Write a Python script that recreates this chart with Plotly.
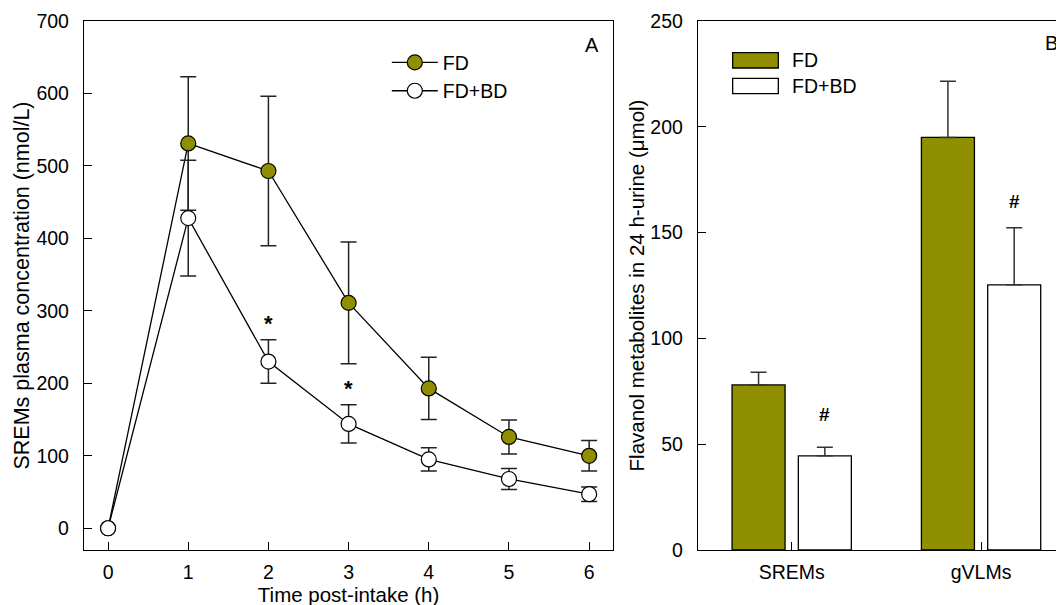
import plotly.graph_objects as go

# ---------------- data ----------------
time_h = [0, 1, 2, 3, 4, 5, 6]
fd_plasma = [0, 531, 493, 311, 193, 126, 100]
fd_plasma_err = [0, 92, 103, 84, 43, 23.5, 21]
fdbd_plasma = [0, 428, 230, 144, 95, 68, 47]
fdbd_plasma_err = [0, 80, 30, 26.5, 16, 14.5, 10]

metabolites = ["SREMs", "gVLMs"]
fd_urine = [78, 195]
fd_urine_err = [6, 26.5]
fdbd_urine = [44.5, 125.3]
fdbd_urine_err = [4, 27]

series_names = ["FD", "FD+BD"]
x_ticks_a = [0, 1, 2, 3, 4, 5, 6]
y_ticks_a = [0, 100, 200, 300, 400, 500, 600, 700]
y_ticks_b = [0, 50, 100, 150, 200, 250]

# ---------------- style ----------------
OLIVE = "#8F8F00"
FONT = "Liberation Sans, Arial, sans-serif"
FS = 19.5

fig = go.Figure()

# Panel A: plasma time course
fig.add_trace(go.Scatter(
    x=time_h, y=fd_plasma, name=series_names[0], mode="lines+markers",
    line=dict(color="black", width=1.3),
    marker=dict(size=15, color=OLIVE, line=dict(color="black", width=1.2)),
    error_y=dict(type="data", array=fd_plasma_err, color="#222222", thickness=1.5, width=8),
    xaxis="x", yaxis="y", legend="legend"))
fig.add_trace(go.Scatter(
    x=time_h, y=fdbd_plasma, name=series_names[1], mode="lines+markers",
    line=dict(color="black", width=1.3),
    marker=dict(size=15, color="white", line=dict(color="black", width=1.2)),
    error_y=dict(type="data", array=fdbd_plasma_err, color="#222222", thickness=1.5, width=8),
    xaxis="x", yaxis="y", legend="legend"))

# Panel B: urinary excretion
fig.add_trace(go.Bar(
    x=metabolites, y=fd_urine, name=series_names[0], showlegend=False,
    marker=dict(color=OLIVE, line=dict(color="black", width=1.3)),
    error_y=dict(type="data", array=fd_urine_err, arrayminus=[0, 0], symmetric=False,
                 color="#333333", thickness=1.5, width=8),
    xaxis="x2", yaxis="y2"))
fig.add_trace(go.Bar(
    x=metabolites, y=fdbd_urine, name=series_names[1], showlegend=False,
    marker=dict(color="white", line=dict(color="black", width=1.3)),
    error_y=dict(type="data", array=fdbd_urine_err, arrayminus=[0, 0], symmetric=False,
                 color="#333333", thickness=1.5, width=8),
    xaxis="x2", yaxis="y2"))

axis_common = dict(showline=True, linecolor="black", linewidth=1.3, ticks="inside",
                   ticklen=8, tickwidth=1.3, tickcolor="black", showgrid=False,
                   zeroline=False, automargin=False,
                   tickfont=dict(family=FONT, size=FS, color="black"))

annotations = []
# significance marks in panel A (above FD+BD upper error)
for i, t in enumerate(time_h):
    if t in (2, 3):
        annotations.append(dict(x=t, y=fdbd_plasma[i] + fdbd_plasma_err[i], xref="x", yref="y",
                                text="<b>*</b>", showarrow=False, yshift=16,
                                xanchor="center", yanchor="middle",
                                font=dict(family=FONT, size=22, color="black")))
# significance marks in panel B
hash_shift = [33, 26]
for i, m in enumerate(metabolites):
    annotations.append(dict(x=i + 0.175, y=fdbd_urine[i] + fdbd_urine_err[i], xref="x2", yref="y2",
                            text="<b>#</b>", showarrow=False, yshift=hash_shift[i],
                            xanchor="center", yanchor="middle",
                            font=dict(family=FONT, size=19, color="black")))
# panel letters
annotations.append(dict(x=0.518, y=0.955, xref="paper", yref="paper", text="A", showarrow=False,
                        xanchor="center", yanchor="middle",
                        font=dict(family=FONT, size=20, color="black")))
annotations.append(dict(x=0.987, y=0.9575, xref="paper", yref="paper", text="B", showarrow=False,
                        xanchor="center", yanchor="middle",
                        font=dict(family=FONT, size=20, color="black")))
# legend text for panel B
annotations.append(dict(x=0.7204, y=0.9257, xref="paper", yref="paper", text=series_names[0],
                        showarrow=False, xanchor="left", yanchor="middle",
                        font=dict(family=FONT, size=FS, color="black")))
annotations.append(dict(x=0.7204, y=0.8771, xref="paper", yref="paper", text=series_names[1],
                        showarrow=False, xanchor="left", yanchor="middle",
                        font=dict(family=FONT, size=FS, color="black")))

shapes = [
    dict(type="rect", xref="paper", yref="paper", x0=0.6619, x1=0.7085, y0=0.9112, y1=0.9401,
         fillcolor=OLIVE, line=dict(color="black", width=1.3)),
    dict(type="rect", xref="paper", yref="paper", x0=0.6619, x1=0.7085, y0=0.8626, y1=0.8917,
         fillcolor="white", line=dict(color="black", width=1.3)),
]

fig.update_layout(
    width=1064, height=605,
    margin=dict(l=76, r=8, t=13, b=63),
    paper_bgcolor="white", plot_bgcolor="white",
    font=dict(family=FONT, size=FS, color="black"),
    barmode="group", bargap=0.3, bargroupgap=0.2,
    xaxis=dict(domain=[0, 0.540], range=[-0.3, 6.3], tickvals=x_ticks_a, mirror=True,
               ticklabelstandoff=4,
               title=dict(text="Time post-intake (h)", font=dict(family=FONT, size=20.5), standoff=5),
               anchor="y", **axis_common),
    yaxis=dict(domain=[0, 1], range=[-30, 700], tickvals=y_ticks_a, mirror=True,
               ticklabelstandoff=10,
               title=dict(text="SREMs plasma concentration (nmol/L)", font=dict(family=FONT, size=21.5),
                          standoff=0),
               anchor="x", **axis_common),
    xaxis2=dict(domain=[0.6265, 1], type="category", range=[-0.495, 1.438], mirror=True,
                ticklabelstandoff=4, anchor="y2", **axis_common),
    yaxis2=dict(domain=[0, 1], range=[0, 250], tickvals=y_ticks_b, mirror=False,
                ticklabelstandoff=10,
                title=dict(text="Flavanol metabolites in 24 h-urine (\u03bcmol)",
                           font=dict(family=FONT, size=20.5), standoff=0),
                anchor="x2", **axis_common),
    legend=dict(x=0.309, y=0.958, xanchor="left", yanchor="top", bgcolor="rgba(0,0,0,0)",
                font=dict(family=FONT, size=FS, color="black"), itemwidth=46,
                tracegroupgap=0),
    annotations=annotations,
    shapes=shapes,
)

fig.write_html("out.html")
